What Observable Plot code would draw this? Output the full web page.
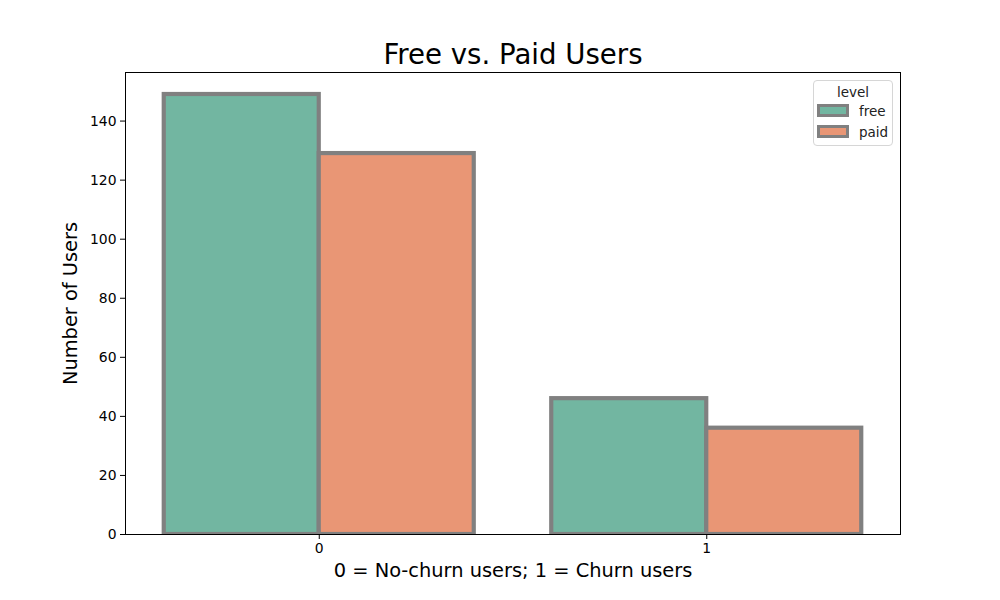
<!DOCTYPE html>
<html>
<head>
<meta charset="utf-8">
<script src="https://cdn.jsdelivr.net/npm/d3@7"></script>
<script src="https://cdn.jsdelivr.net/npm/@observablehq/plot@0.6"></script>
<style>
  html, body { margin: 0; padding: 0; background: #fff; }
  #wrap { position: relative; width: 1000px; height: 600px; font-family: "DejaVu Sans", sans-serif; }
  #legend {
    position: absolute; left: 813px; top: 80px; width: 78px; height: 64px;
    border: 1px solid #d6d6d6; border-radius: 4px; background: rgba(255,255,255,0.8);
    font-size: 13.5px; color: #222; box-sizing: content-box;
  }
  #legend .title { text-align: center; margin-top: 3px; line-height: 16px; }
  #legend .row { display: flex; align-items: center; height: 21px; margin-left: 3px; }
  #legend .sw { width: 26px; height: 7px; border: 3px solid #808080; margin-right: 10px; }
</style>
</head>
<body>
<div id="wrap"></div>
<script>
const churnGroups = [0, 1];
const levels = ["free", "paid"];
const freeCounts = [149, 46];
const paidCounts = [129, 36];
const levelColors = ["#72b6a1", "#e99675"];
const yTicks = [0, 20, 40, 60, 80, 100, 120, 140];
const xTicks = [0, 1];

const barWidth = 0.8 / levels.length;
const rows = [];
churnGroups.forEach((c, i) => {
  [freeCounts, paidCounts].forEach((arr, li) => {
    rows.push({churn: c, level: levels[li], count: arr[i], li});
  });
});

const chart = Plot.plot({
  width: 1000,
  height: 600,
  marginLeft: 125,
  marginRight: 100,
  marginTop: 72,
  marginBottom: 66,
  style: {fontFamily: "DejaVu Sans, sans-serif", fontSize: "13.9px", color: "#000", background: "#fff"},
  x: {domain: [-0.5, 1.5]},
  y: {domain: [0, 149 * 1.05]},
  color: {domain: levels, range: levelColors},
  marks: [
    Plot.rectY(rows, {
      x1: d => d.churn - 0.4 + d.li * barWidth,
      x2: d => d.churn - 0.4 + (d.li + 1) * barWidth,
      y1: 0,
      y2: "count",
      fill: "level",
      stroke: "#808080",
      strokeWidth: 4.2,
      clip: true
    }),
    Plot.frame({stroke: "#000", strokeWidth: 1}),
    Plot.axisY({ticks: yTicks, tickSize: 5, tickPadding: 4, tickFormat: d => String(d),
      label: "Number of Users", labelAnchor: "center", labelOffset: 62, fontSize: 13.9}),
    Plot.axisX({ticks: xTicks, tickSize: 5, tickPadding: 4, tickFormat: d => String(d), label: null}),
    Plot.text(["0 = No-churn users; 1 = Churn users"], {frameAnchor: "bottom", dy: 42, fontSize: 19.4, lineAnchor: "bottom"}),
    Plot.text(["Free vs. Paid Users"], {frameAnchor: "top", dy: -9, fontSize: 27.6, lineAnchor: "bottom"})
  ]
});
chart.querySelectorAll("g[aria-label='y-axis label'] text").forEach(t => {
  t.setAttribute("font-size", "19.4");
  t.textContent = "Number of Users";
});
document.getElementById("wrap").appendChild(chart);

const leg = document.createElement("div");
leg.id = "legend";
leg.innerHTML = `<div class="title">level</div>` + levels.map((l, i) =>
  `<div class="row"><div class="sw" style="background:${levelColors[i]}"></div><span>${l}</span></div>`).join("");
document.getElementById("wrap").appendChild(leg);
</script>
</body>
</html>
